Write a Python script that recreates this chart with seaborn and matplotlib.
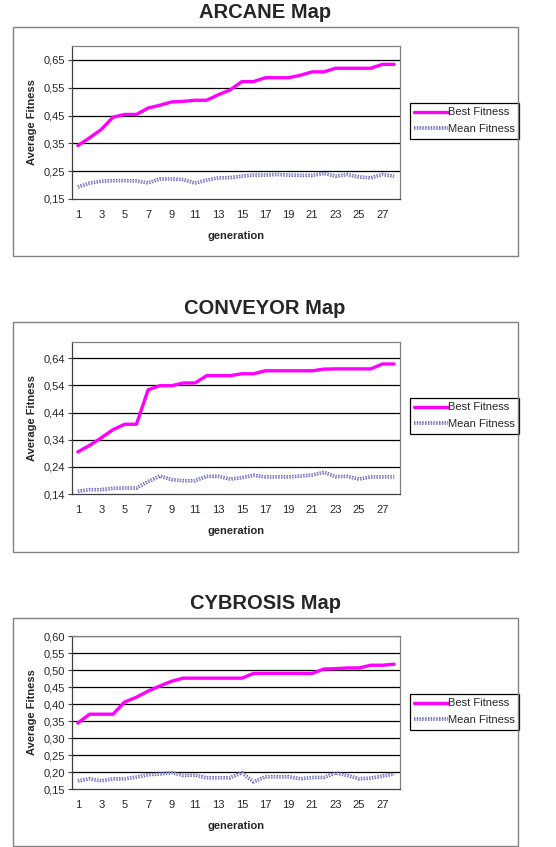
import seaborn as sns
from matplotlib import pyplot as plt
from matplotlib.patches import Rectangle
from matplotlib.ticker import FixedLocator, FuncFormatter
import matplotlib.patheffects as pe
import numpy as np

generation = list(range(1, 29))

arcane_best = [0.342, 0.370, 0.400, 0.444, 0.454, 0.454, 0.477, 0.487, 0.499, 0.501,
               0.505, 0.505, 0.525, 0.542, 0.572, 0.572, 0.586, 0.586, 0.586, 0.595,
               0.607, 0.607, 0.620, 0.620, 0.620, 0.620, 0.634, 0.634]
arcane_mean = [0.193, 0.207, 0.214, 0.216, 0.216, 0.215, 0.208, 0.222, 0.222, 0.220,
               0.207, 0.218, 0.226, 0.227, 0.232, 0.236, 0.236, 0.238, 0.236, 0.235,
               0.235, 0.242, 0.232, 0.238, 0.229, 0.226, 0.238, 0.232]

conveyor_best = [0.295, 0.319, 0.347, 0.377, 0.397, 0.397, 0.524, 0.539, 0.539, 0.549,
                 0.549, 0.576, 0.576, 0.576, 0.583, 0.583, 0.594, 0.594, 0.594, 0.594,
                 0.594, 0.600, 0.601, 0.601, 0.601, 0.601, 0.619, 0.619]
conveyor_mean = [0.150, 0.156, 0.156, 0.161, 0.162, 0.162, 0.186, 0.206, 0.193, 0.189,
                 0.189, 0.205, 0.205, 0.195, 0.200, 0.209, 0.203, 0.203, 0.203, 0.206,
                 0.210, 0.220, 0.204, 0.205, 0.195, 0.203, 0.203, 0.203]

cybrosis_best = [0.344, 0.370, 0.370, 0.370, 0.406, 0.420, 0.438, 0.453, 0.467, 0.476,
                 0.476, 0.476, 0.476, 0.476, 0.476, 0.490, 0.490, 0.490, 0.490, 0.490,
                 0.490, 0.503, 0.504, 0.506, 0.506, 0.514, 0.514, 0.517]
cybrosis_mean = [0.174, 0.180, 0.174, 0.180, 0.180, 0.185, 0.192, 0.194, 0.198, 0.190,
                 0.191, 0.183, 0.183, 0.183, 0.198, 0.171, 0.186, 0.186, 0.186, 0.180,
                 0.184, 0.184, 0.197, 0.190, 0.180, 0.182, 0.188, 0.194]

titles = ["ARCANE Map", "CONVEYOR Map", "CYBROSIS Map"]
y_ticks = [[0.15, 0.25, 0.35, 0.45, 0.55, 0.65],
           [0.14, 0.24, 0.34, 0.44, 0.54, 0.64],
           [0.15, 0.20, 0.25, 0.30, 0.35, 0.40, 0.45, 0.50, 0.55, 0.60]]
y_limits = [(0.15, 0.70), (0.14, 0.70), (0.15, 0.60)]

sns.set_style("white")
plt.rcParams['font.family'] = ['Liberation Sans', 'DejaVu Sans']

W, H = 556, 847
fig = plt.figure(figsize=(W / 100, H / 100), dpi=100)

# pixel layout of each panel: (outer box top, outer box bottom, plot top, plot bottom, title y)
panels = [(27, 256, 46, 199, 13), (322, 552, 342, 494, 308), (618, 846, 636, 789, 603)]
best_all = [arcane_best, conveyor_best, cybrosis_best]
mean_all = [arcane_mean, conveyor_mean, cybrosis_mean]

for i in range(3):
    box_top, box_bot, p_top, p_bot, t_y = panels[i]
    fig.add_artist(Rectangle((13 / W, 1 - box_bot / H), 505 / W, (box_bot - box_top) / H,
                             transform=fig.transFigure, fill=False, edgecolor='#808080', lw=1))
    fig.text(265 / W, 1 - t_y / H, titles[i], ha='center', va='center',
             fontsize=14.5, fontweight='bold')

    ax = fig.add_axes([72 / W, 1 - p_bot / H, 328 / W, (p_bot - p_top) / H])
    ax.set_facecolor('white')
    for s in ['top', 'right']:
        ax.spines[s].set_color('#808080')
    for s in ['left', 'bottom']:
        ax.spines[s].set_color('#404040')
    for s in ax.spines.values():
        s.set_linewidth(0.9)

    for yv in y_ticks[i][1:]:
        ax.axhline(yv, color='black', lw=0.9, zorder=1)

    sns.lineplot(x=generation, y=best_all[i], ax=ax, color='#FF00FF', lw=2.4,
                 label='Best Fitness', zorder=3)
    sns.lineplot(x=generation, y=mean_all[i], ax=ax, color='#B4B4E8', lw=1.0,
                 linestyle=(0, (1, 1)), label='Mean Fitness', zorder=3,
                 path_effects=[pe.Stroke(linewidth=2.6, foreground='#5E5EBA'), pe.Normal()])

    ax.set_xlim(0.5, 28.5)
    ax.set_ylim(*y_limits[i])
    ax.set_yticks(y_ticks[i])
    ax.yaxis.set_major_formatter(FuncFormatter(lambda v, p: f"{v:.2f}".replace('.', ',')))
    ax.set_xticks(list(range(1, 29, 2)))
    ax.xaxis.set_minor_locator(FixedLocator(np.arange(0.5, 29, 1)))
    ax.tick_params(axis='x', which='major', length=0, pad=8, labelsize=8)
    ax.tick_params(axis='x', which='minor', length=3, width=0.8, color='#404040', direction='out')
    ax.tick_params(axis='y', length=3, width=0.8, color='#404040', pad=2, labelsize=8,
                   direction='out', left=True)
    ax.set_xlabel('generation', fontsize=8, fontweight='bold', labelpad=8)
    ax.set_ylabel('Average Fitness', fontsize=8, fontweight='bold', labelpad=5)

    leg_top = 1 - (box_top + 76) / H
    ax.legend(loc='upper left', bbox_to_anchor=(410 / W, leg_top), bbox_transform=fig.transFigure,
              fontsize=8, frameon=True, fancybox=False, edgecolor='black', framealpha=1,
              handlelength=3.0, handletextpad=0.0, borderpad=0.4, labelspacing=0.6,
              borderaxespad=0)
    ax.get_legend().get_frame().set_linewidth(0.9)

fig.savefig('out.png', dpi=100, facecolor='white')
